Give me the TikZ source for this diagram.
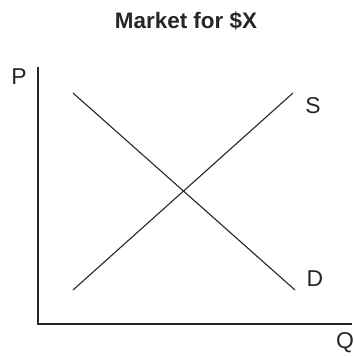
\documentclass[tikz,border=0pt]{standalone}
\usepackage{fontspec}
\setmainfont{Liberation Sans}
\begin{document}
\begin{tikzpicture}[x=1bp,y=-1bp,
  lbl/.style={inner sep=0pt,font=\fontsize{23}{23}\selectfont,text=black!85},
  curve/.style={line width=1.1bp,draw=black!85},
  axis/.style={line width=1.2bp,draw=black!85}]
\useasboundingbox (0,0) rectangle (354,356);
\node[inner sep=0pt,anchor=base,font=\fontsize{22.5}{22.5}\bfseries\selectfont,text=black!85] (title) at (186,28) {Market for \$X};
\coordinate (top) at (38,67);
\coordinate (origin) at (38,324);
\coordinate (right) at (352,324);
\draw[axis] (top) -- (origin) -- (right);
\coordinate (s1) at (73,290);
\coordinate (s2) at (293,93);
\coordinate (d1) at (73,93);
\coordinate (d2) at (295,290);
\draw[curve] (s1) -- (s2);
\draw[curve] (d1) -- (d2);
\node[lbl] (P) at (19,77) {P};
\node[lbl] (S) at (313,106) {S};
\node[lbl] (D) at (315,279) {D};
\node[lbl] (Q) at (345,343) {Q};
\end{tikzpicture}
\end{document}
